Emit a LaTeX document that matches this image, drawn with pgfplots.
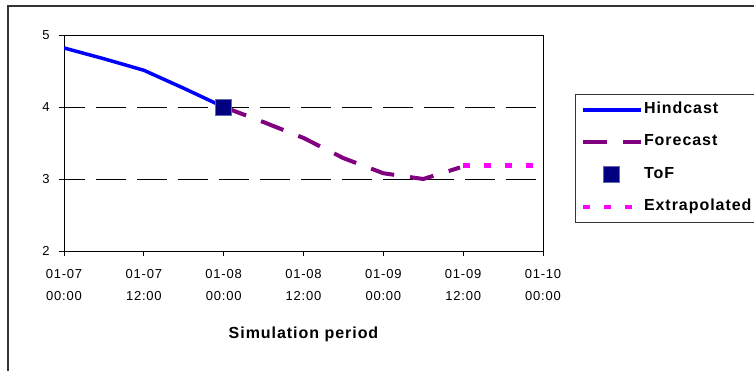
\documentclass[border=0pt]{standalone}
\usepackage{fontspec}
\setmainfont{Liberation Sans}[LetterSpace=6]
\usepackage{pgfplots}
\pgfplotsset{compat=1.18}
\definecolor{hind}{RGB}{0,0,255}
\definecolor{fore}{RGB}{128,0,128}
\definecolor{tof}{RGB}{0,0,128}
\definecolor{extr}{RGB}{255,0,255}
\pgfplotsset{
  legline/.style={legend image code/.code={\draw[##1] (0bp,0bp) -- (58bp,0bp);}},
  legmark/.style={legend image code/.code={\draw[##1] plot coordinates {(29bp,0bp)};}},
}
\begin{document}
\begin{tikzpicture}[x=1bp,y=1bp]
\useasboundingbox (0,0) rectangle (754,370);
\draw[line width=1.3bp, color=black!80] (8,-5) -- (8,364) -- (760,364);
\begin{axis}[
  at={(64bp,119bp)}, anchor=south west, scale only axis,
  width=479bp, height=216bp,
  xmin=0, xmax=3, ymin=2, ymax=5,
  xtick={0,0.5,1,1.5,2,2.5,3},
  xticklabels={{01-07\\00:00},{01-07\\12:00},{01-08\\00:00},{01-08\\12:00},{01-09\\00:00},{01-09\\12:00},{01-10\\00:00}},
  ytick={2,3,4,5},
  /pgf/number format/assume math mode=true,
  xticklabel style={align=center, font=\fontsize{13bp}{22.5bp}\selectfont, yshift=-9.5bp},
  yticklabel style={font=\fontsize{13bp}{15bp}\selectfont, xshift=-6bp},
  tick align=outside, major tick length=5bp,
  xtick pos=left, ytick pos=left,
  ymajorgrids,
  grid style={black, line width=0.8bp, dash pattern=on 30bp off 11bp, dash phase=9bp},
  axis line style={line width=0.8bp},
  tick style={black, line width=0.8bp},
  xlabel={Simulation period},
  xlabel style={font=\fontsize{16bp}{18bp}\selectfont\bfseries, at={(axis description cs:0.5,0)}, anchor=center, yshift=-83bp},
  legend style={at={(axis description cs:1.0668,0.7269)}, anchor=north west,
    draw=black!80, line width=1bp,
    font=\fontsize{16bp}{18bp}\selectfont\bfseries,
    inner xsep=5bp, inner ysep=8bp, row sep=17bp,
    nodes={inner sep=0pt, text height=11.5bp, text depth=3.5bp},
    /tikz/every odd column/.append style={column sep=1bp}},
  legend cell align=left,
]
\addplot[hind, line width=3.5bp, legline]
  coordinates {(0,4.82) (0.25,4.67) (0.5,4.51) (0.75,4.26) (1,4.0)};
\addlegendentry{Hindcast}
\addplot[fore, line width=4bp, dash pattern=on 24bp off 16bp, legline]
  coordinates {(1,4.0) (1.25,3.79) (1.5,3.57) (1.75,3.29) (2.0,3.08) (2.25,3.0) (2.48,3.16)};
\addlegendentry{Forecast}
\addplot[only marks, mark=square*, mark size=8bp,
  mark options={fill=tof, draw=tof!60!white, line width=0.6bp}, legmark]
  coordinates {(1,4.0)};
\addlegendentry{ToF}
\addplot[extr, line width=4.5bp, dash pattern=on 7bp off 14bp, legline]
  coordinates {(2.5,3.19) (3.0,3.19)};
\addlegendentry{Extrapolated}
\end{axis}
\end{tikzpicture}
\end{document}
